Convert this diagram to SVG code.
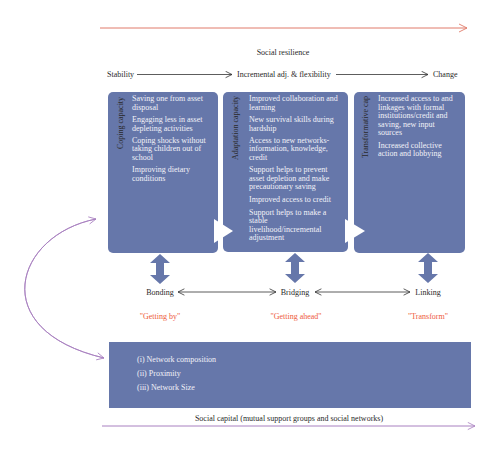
<svg xmlns="http://www.w3.org/2000/svg" width="500" height="454" viewBox="0 0 500 454">
<defs>
<style>
.t{font-family:"Liberation Serif","Times New Roman",serif;font-size:8px;fill:#2a2a2a}
.b{font-family:"Liberation Serif","Times New Roman",serif;font-size:8px;fill:#f2f2f8}
.v{font-family:"Liberation Serif","Times New Roman",serif;font-size:8px;fill:#2a2a2a}
.q{font-family:"Liberation Serif","Times New Roman",serif;font-size:8px;fill:#ee5a3c}
.box{fill:#6677aa}
.dk{stroke:#333;stroke-width:0.8;fill:none}
</style>
<marker id="ah" viewBox="0 0 10 10" refX="9" refY="5" markerWidth="8" markerHeight="8" orient="auto-start-reverse" markerUnits="userSpaceOnUse"><path d="M1,1 L9,5 L1,9" fill="none" stroke="#333" stroke-width="1"/></marker>
<marker id="ahr" viewBox="0 0 10 10" refX="9" refY="5" markerWidth="10" markerHeight="10" orient="auto" markerUnits="userSpaceOnUse"><path d="M1,1 L9,5 L1,9" fill="none" stroke="#e07a6a" stroke-width="0.9"/></marker>
<marker id="ahp" viewBox="0 0 10 10" refX="9" refY="5" markerWidth="9" markerHeight="9" orient="auto" markerUnits="userSpaceOnUse"><path d="M1,1 L9,5 L1,9" fill="none" stroke="#a880c0" stroke-width="0.9"/></marker>
<path id="dbl" d="M0,0 L10,9 L4,9 L4,21 L10,21 L0,30 L-10,21 L-4,21 L-4,9 L-10,9 Z" fill="#6677aa"/>
</defs>
<rect width="500" height="454" fill="#fff"/>

<g id="connectors">
<line x1="100" y1="28" x2="467" y2="28" stroke="#e07a6a" stroke-width="1" marker-end="url(#ahr)"/>
<line x1="137" y1="74.5" x2="232" y2="74.5" class="dk" marker-end="url(#ah)"/>
<line x1="336" y1="74.5" x2="428" y2="74.5" class="dk" marker-end="url(#ah)"/>
<line x1="178" y1="292" x2="276" y2="292" class="dk" marker-start="url(#ah)" marker-end="url(#ah)"/>
<line x1="315" y1="292" x2="410" y2="292" class="dk" marker-start="url(#ah)" marker-end="url(#ah)"/>
<use href="#dbl" x="160" y="254"/>
<use href="#dbl" x="295" y="253"/>
<use href="#dbl" x="428" y="253"/>
<path d="M104,358 C-15,330 15,235 96,219" fill="none" stroke="#a880c0" stroke-width="0.9" marker-end="url(#ahp)"/>
<path d="M96,219 C15,235 -15,330 104,358" fill="none" stroke="#a880c0" stroke-width="0.9" marker-end="url(#ahp)"/>
<line x1="102" y1="426" x2="475" y2="426" stroke="#a880c0" stroke-width="1" marker-end="url(#ahp)"/>
</g>

<g id="header">
<text class="t" x="283" y="55" text-anchor="middle">Social resilience</text>
<text class="t" x="107" y="77">Stability</text>
<text class="t" x="237" y="77">Incremental adj. &amp; flexibility</text>
<text class="t" x="433" y="77">Change</text>
</g>

<g id="coping">
<rect class="box" x="108" y="92" width="110" height="161" rx="5"/>
<text class="v" transform="translate(123,123) rotate(-90)" text-anchor="middle">Coping capacity</text>
<text class="b" x="132"><tspan x="132" y="101">Saving one from asset</tspan><tspan x="132" y="109.5">disposal</tspan><tspan x="132" y="122">Engaging less in asset</tspan><tspan x="132" y="130.5">depleting activities</tspan><tspan x="132" y="142.5">Coping shocks without</tspan><tspan x="132" y="151">taking children out of</tspan><tspan x="132" y="159.5">school</tspan><tspan x="132" y="172">Improving dietary</tspan><tspan x="132" y="180.5">conditions</tspan></text>
</g>

<g id="adaptation">
<rect class="box" x="223" y="92" width="125" height="160" rx="5"/>
<text class="v" transform="translate(238,128) rotate(-90)" text-anchor="middle">Adaptation capacity</text>
<text class="b"><tspan x="249" y="101">Improved collaboration and</tspan><tspan x="249" y="109.5">learning</tspan><tspan x="249" y="122">New survival skills during</tspan><tspan x="249" y="130.5">hardship</tspan><tspan x="249" y="142.5">Access to new networks-</tspan><tspan x="249" y="151">information, knowledge,</tspan><tspan x="249" y="159.5">credit</tspan><tspan x="249" y="172">Support helps to prevent</tspan><tspan x="249" y="180.5">asset depletion and make</tspan><tspan x="249" y="189">precautionary saving</tspan><tspan x="249" y="202">Improved access to credit</tspan><tspan x="249" y="214.5">Support helps to make a</tspan><tspan x="249" y="223">stable</tspan><tspan x="249" y="231.5">livelihood/incremental</tspan><tspan x="249" y="240">adjustment</tspan></text>
</g>

<g id="transformative">
<rect class="box" x="354" y="92" width="111" height="161" rx="5"/>
<text class="v" transform="translate(368,127) rotate(-90)" text-anchor="middle">Transformative cap</text>
<text class="b"><tspan x="378" y="101">Increased access to and</tspan><tspan x="378" y="109.5">linkages with formal</tspan><tspan x="378" y="118">institutions/credit and</tspan><tspan x="378" y="126.5">saving, new input</tspan><tspan x="378" y="135">sources</tspan><tspan x="378" y="147.5">Increased collective</tspan><tspan x="378" y="156">action and lobbying</tspan></text>
</g>

<g id="triangles">
<polygon points="214,219 233,231 214,243" fill="#fff"/>
<polygon points="345,219 365,231 345,243" fill="#fff"/>
</g>

<g id="bonding"><text class="t" x="160" y="295" text-anchor="middle">Bonding</text><text class="q" x="160" y="319" text-anchor="middle">"Getting by"</text></g>
<g id="bridging"><text class="t" x="295" y="295" text-anchor="middle">Bridging</text><text class="q" x="296" y="319" text-anchor="middle">"Getting ahead"</text></g>
<g id="linking"><text class="t" x="428" y="295" text-anchor="middle">Linking</text><text class="q" x="428" y="319" text-anchor="middle">"Transform"</text></g>

<g id="network">
<rect class="box" x="109" y="342" width="362" height="66"/>
<text class="b"><tspan x="137" y="362">(i) Network composition</tspan><tspan x="137" y="376">(ii) Proximity</tspan><tspan x="137" y="390">(iii) Network Size</tspan></text>
</g>

<g id="social-capital">
<text class="t" x="289" y="421" text-anchor="middle">Social capital (mutual support groups and social networks)</text>
</g>
</svg>
